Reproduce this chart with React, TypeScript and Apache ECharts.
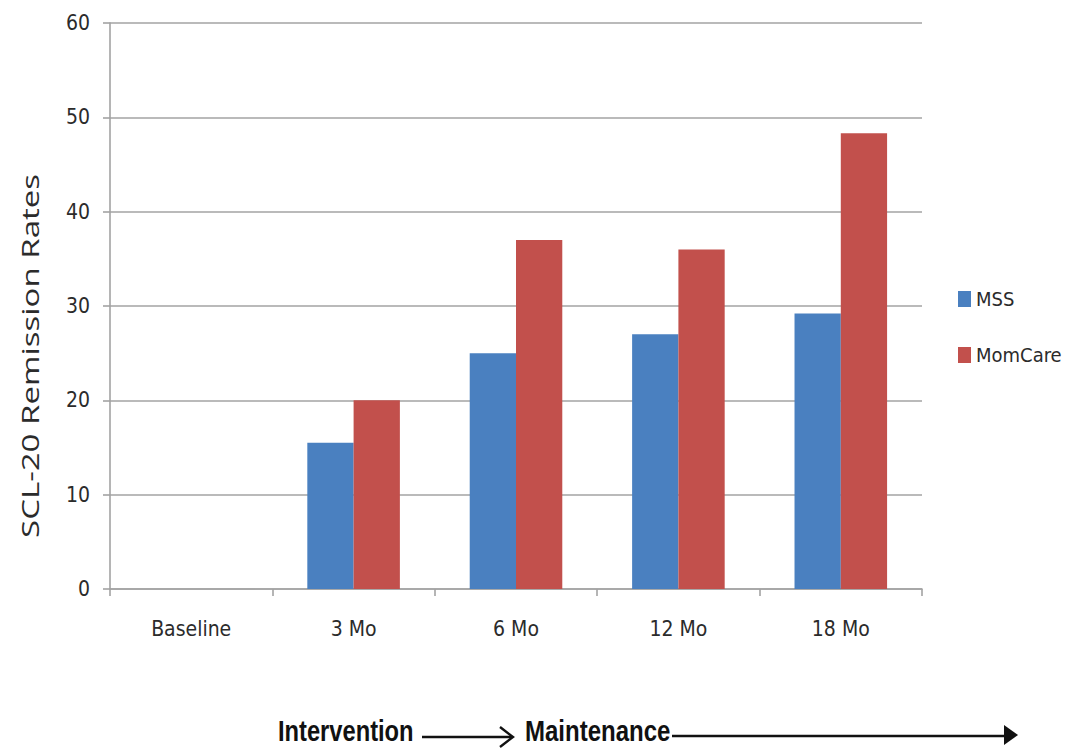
import React, { useEffect, useRef } from "react";
import * as echarts from "echarts";

// Time points and remission rates (%) for each arm
const timePoints = ["Baseline", "3 Mo", "6 Mo", "12 Mo", "18 Mo"];
const mssRates = [0, 15.5, 25, 27, 29.2];
const momCareRates = [0, 20, 37, 36, 48.3];
const seriesNames = ["MSS", "MomCare"];
const yAxisTitle = "SCL-20 Remission Rates";
const phaseLabels = ["Intervention", "Maintenance"];

const NARROW = '"DejaVu Sans Condensed", "Liberation Sans Narrow", "Liberation Sans", sans-serif';
const TEXT_COLOR = "#2b2b2b";
const GRID_COLOR = "#a3a3a3";
const LABEL_SIZE = 21;

export default function App() {
  const ref = useRef<HTMLDivElement>(null);

  useEffect(() => {
    if (!ref.current) return;
    const chart = echarts.init(ref.current, null, { renderer: "svg" });

    chart.setOption({
      animation: false,
      backgroundColor: "#ffffff",
      grid: { left: 110, top: 23, width: 812, height: 566, containLabel: false },
      legend: {
        orient: "vertical",
        left: 953,
        top: 284,
        itemWidth: 13,
        itemHeight: 16,
        itemGap: 36,
        icon: "rect",
        textStyle: { fontFamily: NARROW, fontSize: 20, color: TEXT_COLOR, lineHeight: 20 },
        data: seriesNames,
      },
      xAxis: {
        type: "category",
        data: timePoints,
        axisLine: { show: true, lineStyle: { color: GRID_COLOR, width: 1.6 } },
        axisTick: { show: true, length: 7, alignWithLabel: false, lineStyle: { color: GRID_COLOR, width: 1.6 } },
        axisLabel: { fontFamily: NARROW, fontSize: LABEL_SIZE, color: TEXT_COLOR, margin: 29 },
      },
      yAxis: {
        type: "value",
        min: 0,
        max: 60,
        interval: 10,
        axisLine: { show: true, lineStyle: { color: GRID_COLOR, width: 1.6 } },
        axisTick: { show: true, length: 7, lineStyle: { color: GRID_COLOR, width: 1.6 } },
        axisLabel: { fontFamily: NARROW, fontSize: LABEL_SIZE, color: TEXT_COLOR, margin: 20 },
        splitLine: { show: true, lineStyle: { color: GRID_COLOR, width: 1.6 } },
      },
      series: [
        {
          name: seriesNames[0],
          type: "bar",
          data: mssRates,
          barGap: "0%",
          barCategoryGap: "43%",
          itemStyle: { color: "#4A80C0" },
        },
        {
          name: seriesNames[1],
          type: "bar",
          data: momCareRates,
          barGap: "0%",
          barCategoryGap: "43%",
          itemStyle: { color: "#C2504C" },
        },
      ],
      graphic: [
        {
          type: "text",
          x: 29,
          y: 356,
          rotation: Math.PI / 2,
          scaleY: 0.72,
          style: {
            text: yAxisTitle,
            fontFamily: '"Open Sans", "Noto Sans", sans-serif',
            fontSize: 33,
            fill: TEXT_COLOR,
            align: "center",
            verticalAlign: "middle",
          },
        },
        {
          type: "text",
          x: 278,
          y: 731,
          scaleX: 0.79,
          style: {
            text: phaseLabels[0],
            fontFamily: '"Liberation Sans", Arial, sans-serif',
            fontWeight: "bold",
            fontSize: 30,
            fill: "#111111",
            align: "left",
            verticalAlign: "middle",
          },
        },
        {
          type: "text",
          x: 525,
          y: 731,
          scaleX: 0.8,
          style: {
            text: phaseLabels[1],
            fontFamily: '"Liberation Sans", Arial, sans-serif',
            fontWeight: "bold",
            fontSize: 30,
            fill: "#111111",
            align: "left",
            verticalAlign: "middle",
          },
        },
        // short arrow with open head
        {
          type: "line",
          shape: { x1: 422, y1: 737, x2: 512, y2: 737 },
          style: { stroke: "#111111", lineWidth: 2.4 },
        },
        {
          type: "polyline",
          shape: { points: [[500, 727], [513, 737], [500, 747]] },
          style: { stroke: "#111111", lineWidth: 2.4, fill: "none" },
        },
        // long arrow with filled head
        {
          type: "line",
          shape: { x1: 672, y1: 736, x2: 1008, y2: 736 },
          style: { stroke: "#111111", lineWidth: 2.4 },
        },
        {
          type: "polygon",
          shape: { points: [[1004, 725], [1018, 735], [1004, 745]] },
          style: { fill: "#111111" },
        },
      ],
    });

    return () => chart.dispose();
  }, []);

  return (
    <div
      ref={ref}
      style={{ position: "fixed", left: 0, top: 0, width: 1069, height: 750, background: "#fff" }}
    />
  );
}
